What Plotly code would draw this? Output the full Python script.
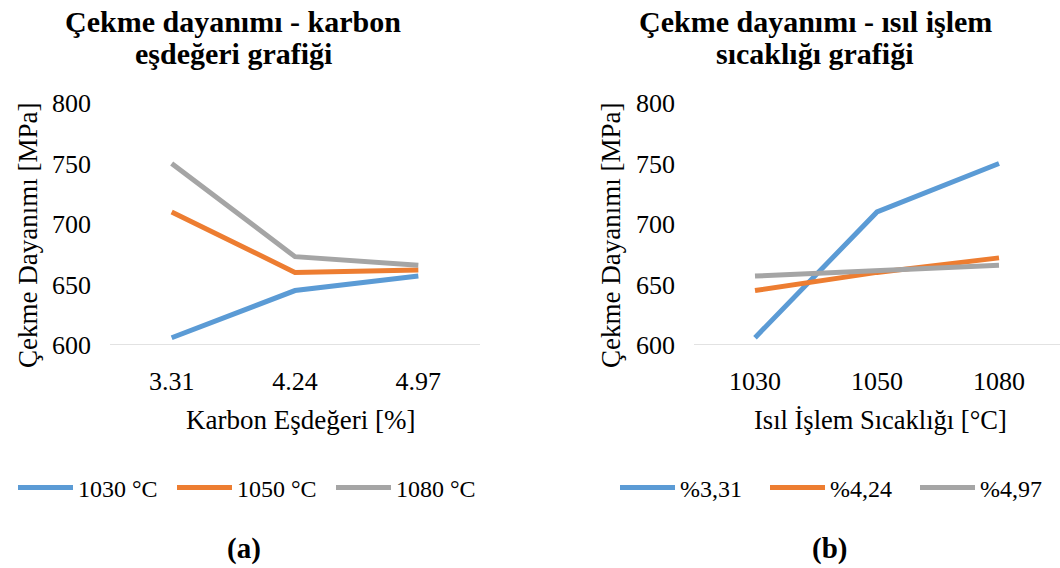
import plotly.graph_objects as go

# ---- data ----
carbon_cats = ["3.31", "4.24", "4.97"]
temp_cats = ["1030", "1050", "1080"]

left_series_names = ["1030 °C", "1050 °C", "1080 °C"]
left_1030 = [606, 645, 657]
left_1050 = [710, 660, 662]
left_1080 = [750, 673, 666]

right_series_names = ["%3,31", "%4,24", "%4,97"]
right_331 = [606, 710, 750]
right_424 = [645, 660, 672]
right_497 = [657, 662, 666]

y_ticks = [600, 650, 700, 750, 800]

colors = ["#5B9BD5", "#ED7D31", "#A5A5A5"]
FONT = "Liberation Serif"
W, H = 1060, 568

fig = go.Figure()
for name, vals, c in zip(left_series_names, [left_1030, left_1050, left_1080], colors):
    fig.add_trace(go.Scatter(x=carbon_cats, y=vals, name=name, mode="lines",
                             line=dict(color=c, width=5), xaxis="x", yaxis="y",
                             legend="legend"))
for name, vals, c in zip(right_series_names, [right_331, right_424, right_497], colors):
    fig.add_trace(go.Scatter(x=temp_cats, y=vals, name=name, mode="lines",
                             line=dict(color=c, width=5), xaxis="x2", yaxis="y2",
                             legend="legend2"))

def px_x(p):
    return p / W

def px_y(p):
    return 1 - p / H

ydom = [px_y(345), px_y(103)]
axis_common = dict(type="category", range=[-0.5, 2.5], showgrid=False, zeroline=False,
                   showline=False, ticks="", automargin=False,
                   tickfont=dict(family=FONT, size=26, color="#000"),
                   ticklabelstandoff=18)
yaxis_common = dict(range=[600, 800], tickvals=y_ticks, showgrid=False, zeroline=False,
                    showline=False, ticks="", automargin=False,
                    tickfont=dict(family=FONT, size=26, color="#000"),
                    ticklabelstandoff=18)

legend_common = dict(orientation="h", xanchor="left", yanchor="middle", itemwidth=55,
                     font=dict(family=FONT, size=24, color="#000"),
                     bgcolor="rgba(0,0,0,0)")

fig.update_layout(
    width=W, height=H,
    margin=dict(l=0, r=0, t=0, b=0, autoexpand=False),
    paper_bgcolor="white", plot_bgcolor="white",
    xaxis=dict(domain=[px_x(110), px_x(480)], anchor="y", **axis_common),
    yaxis=dict(domain=ydom, anchor="x", **yaxis_common),
    xaxis2=dict(domain=[px_x(694), 1.0], anchor="y2", **axis_common),
    yaxis2=dict(domain=ydom, anchor="x2", **yaxis_common),
    legend=dict(x=px_x(13), y=px_y(488), entrywidth=89, **legend_common),
    legend2=dict(x=px_x(615), y=px_y(488), entrywidth=80, **legend_common),
    showlegend=True,
)

# light axis baselines at y=600
for xa, ya in [("x", "y"), ("x2", "y2")]:
    fig.add_shape(type="line", xref=f"{xa} domain", yref=ya, x0=0, x1=1, y0=600, y1=600,
                  line=dict(color="#D9D9D9", width=1.5), layer="below")

ann = []
ann.append(dict(text="<b>Çekme dayanımı - karbon</b>", x=px_x(233), y=px_y(21),
                font=dict(family=FONT, size=30, color="#000")))
ann.append(dict(text="<b>eşdeğeri grafiği</b>", x=px_x(233), y=px_y(53),
                font=dict(family=FONT, size=30, color="#000")))
ann.append(dict(text="<b>Çekme dayanımı - ısıl işlem</b>", x=px_x(815), y=px_y(21),
                font=dict(family=FONT, size=30, color="#000")))
ann.append(dict(text="<b>sıcaklığı grafiği</b>", x=px_x(815), y=px_y(53),
                font=dict(family=FONT, size=30, color="#000")))
ann.append(dict(text="Çekme Dayanımı [MPa]", x=px_x(28), y=px_y(236), textangle=-90,
                font=dict(family=FONT, size=27, color="#000")))
ann.append(dict(text="Çekme Dayanımı [MPa]", x=px_x(611), y=px_y(236), textangle=-90,
                font=dict(family=FONT, size=27, color="#000")))
ann.append(dict(text="Karbon Eşdeğeri [%]", x=px_x(300), y=px_y(420),
                font=dict(family=FONT, size=27, color="#000")))
ann.append(dict(text="Isıl İşlem Sıcaklığı [°C]", x=px_x(880), y=px_y(420),
                font=dict(family=FONT, size=26.5, color="#000")))
ann.append(dict(text="<b>(a)</b>", x=px_x(244), y=px_y(548),
                font=dict(family=FONT, size=29, color="#000")))
ann.append(dict(text="<b>(b)</b>", x=px_x(829), y=px_y(548),
                font=dict(family=FONT, size=29, color="#000")))
for a in ann:
    fig.add_annotation(xref="paper", yref="paper", showarrow=False, xanchor="center",
                       yanchor="middle", **a)

fig.write_html("out.html")
